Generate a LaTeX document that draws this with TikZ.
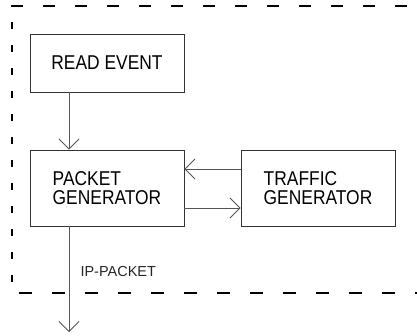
\documentclass[tikz,border=0pt]{standalone}
\usepackage{fontspec}
\setmainfont{Liberation Sans}
\newfontfamily\labelfont[FakeStretch=0.87]{Liberation Sans}
\usetikzlibrary{arrows.meta}
\definecolor{boxline}{HTML}{333333}
\definecolor{flowline}{HTML}{555555}
\tikzset{
  x=1pt, y=1pt,
  block/.style={draw=boxline, line width=0.9pt, minimum width=154pt,
    inner sep=0pt, font=\labelfont\fontsize{20}{19.5}\selectfont, align=left},
  flow/.style={draw=flowline, line width=0.8pt,
    -{Straight Barb[length=10pt,width=20pt,line width=0.8pt]}},
  frame/.style={line width=2.8pt, black}
}
\begin{document}
\begin{tikzpicture}
\useasboundingbox (0,0) rectangle (417,-335);
% enclosing module boundary
\draw[frame, dash pattern=on 12pt off 20pt] (11,-6) -- (430,-6);
\draw[frame, dash pattern=on 7pt off 16pt] (12,-22) -- (12,-285);
\draw[frame, dash pattern=on 13pt off 20pt] (19,-293) -- (430,-293);
% blocks
\node[block, minimum height=58pt] (read) at (107,-63) {READ EVENT};
\node[block, minimum height=76pt] (pkt) at (107,-188) {PACKET\\GENERATOR};
\node[block, minimum height=76pt] (traffic) at (318,-188) {TRAFFIC\\GENERATOR};
\coordinate (out) at (69,-332);
% connections
\draw[flow] (read.south -| out) -- (pkt.north -| out);
\draw[flow] (traffic.west |- 0,-169) -- (pkt.east |- 0,-169);
\draw[flow] (pkt.east |- 0,-208) -- (traffic.west |- 0,-208);
\draw[flow] (pkt.south -| out) -- (out);
\node[anchor=west, font=\fontsize{14.5}{15}\selectfont, text=black!85] (lbl) at (77,-272) {IP-PACKET};
\end{tikzpicture}
\end{document}
